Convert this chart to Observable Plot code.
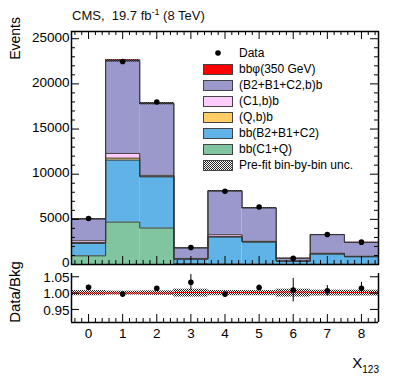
<!DOCTYPE html>
<html><head><meta charset="utf-8">
<script src="https://cdn.jsdelivr.net/npm/d3@7"></script>
<script src="https://cdn.jsdelivr.net/npm/@observablehq/plot@0.6"></script>
<style>
body{margin:0;background:#fff;}
#c{position:relative;width:399px;height:379px;font-family:"Liberation Sans",Arial,sans-serif;overflow:hidden;background:#fff}
#c > svg, #c > div {position:absolute;left:0}
.lg-box{position:absolute;width:30px;height:11px;box-sizing:border-box;border:1px solid #444}
.lg-txt{position:absolute;font-size:12px;line-height:14px;color:#000;white-space:nowrap}
</style></head><body><div id="c"></div>
<script>
// ---- data ----
const bins = [0, 1, 2, 3, 4, 5, 6, 7, 8];
const binLabels = ["0", "1", "2", "3", "4", "5", "6", "7", "8"];
const sigBbPhi   = [40, 100, 80, 20, 40, 30, 10, 20, 20];
const bgB2B1C2b  = [2400, 10250, 7930, 1150, 4830, 3680, 280, 2040, 1510];
const bgC1b      = [200, 520, 100, 60, 190, 60, 40, 70, 50];
const bgQb       = [100, 220, 80, 40, 80, 40, 20, 40, 30];
const bbB2B1C2   = [1370, 6860, 5660, 500, 2980, 2450, 340, 1130, 830];
const bbC1Q      = [960, 4700, 4040, 80, 50, 30, 10, 20, 20];
const dataEvents = [5100, 22480, 18000, 1885, 8110, 6360, 695, 3315, 2475];
const preFitUnc  = [0.008, 0.006, 0.007, 0.012, 0.008, 0.008, 0.012, 0.009, 0.009];
const ratioVal   = [1.018, 0.997, 1.015, 1.033, 0.997, 1.017, 1.009, 1.007, 1.015];
const ratioErr   = [0.006, 0.003, 0.004, 0.024, 0.005, 0.008, 0.036, 0.016, 0.018];
const sigRatio   = [1.000, 1.000, 1.000, 1.002, 1.002, 1.002, 1.003, 1.002, 1.002];
const yTicksMain = [0, 5000, 10000, 15000, 20000, 25000];
const yTicksRatio = [0.95, 1.00, 1.05];
const compNames  = ["bb(C1+Q)", "bb(B2+B1+C2)", "(Q,b)b", "(C1,b)b", "(B2+B1+C2,b)b", "bb\u03c6(350 GeV)"];
const compColors = ["#80c5a0", "#5fb3e6", "#ffcc66", "#ffccff", "#9b99cc", "#ff0000"];
const legendOrder = ["bb\u03c6(350 GeV)", "(B2+B1+C2,b)b", "(C1,b)b", "(Q,b)b", "bb(B2+B1+C2)", "bb(C1+Q)"];

// ---- build stacked table ----
const compVals = [bbC1Q, bbB2B1C2, bgQb, bgC1b, bgB2B1C2b, sigBbPhi];
const stackRows = [];
const outlineRows = [];
const bkgTotal = bins.map(() => 0);
bins.forEach((b, i) => {
  let base = 0;
  compNames.forEach((n, k) => {
    const v = compVals[k][i];
    stackRows.push({bin: b, comp: n, y1: base, y2: base + v});
    base += v;
    if (k < 5) bkgTotal[i] = base;
  });
});
compNames.forEach((n, k) => {
  let base = bins.map(() => 0);
  bins.forEach((b, i) => { for (let j = 0; j <= k; j++) base[i] += compVals[j][i]; });
  bins.forEach((b, i) => outlineRows.push({comp: n, x: b - 0.5, y: base[i]}));
  outlineRows.push({comp: n, x: bins[bins.length - 1] + 0.5, y: base[bins.length - 1]});
});
const sigRatioSteps = bins.map((b, i) => ({x: b - 0.5, y: sigRatio[i]}))
  .concat([{x: bins[bins.length - 1] + 0.5, y: sigRatio[bins.length - 1]}]);

const W = 399, ML = 71, MR = 21;
const PW = W - ML - MR;
const xDom = [-0.5, 8.5];
const xMinor = d3.range(-0.4, 8.5, 0.2).map(v => Math.round(v * 10) / 10).filter(v => Math.abs(v - Math.round(v)) > 0.01);
const yMinorMain = d3.range(0, 25801, 1000).filter(v => v % 5000 !== 0);

function ticks(ph, xMaj, xMin, yMaj, yMin, top) {
  const m = [
    Plot.tickX(xMaj, {x: d => d, insetTop: ph - 8, stroke: "black"}),
    Plot.tickX(xMin, {x: d => d, insetTop: ph - 4, stroke: "black"}),
    Plot.tickY(yMaj, {y: d => d, insetRight: PW - 8, stroke: "black"}),
    Plot.tickY(yMaj, {y: d => d, insetLeft: PW - 8, stroke: "black"}),
    Plot.tickY(yMin, {y: d => d, insetRight: PW - 4, stroke: "black"}),
    Plot.tickY(yMin, {y: d => d, insetLeft: PW - 4, stroke: "black"})
  ];
  if (top) {
    m.push(Plot.tickX(xMaj, {x: d => d, insetBottom: ph - 8, stroke: "black"}));
    m.push(Plot.tickX(xMin, {x: d => d, insetBottom: ph - 4, stroke: "black"}));
  }
  return m;
}

function addHatch(svg, id) {
  const p = d3.select(svg).insert("defs", ":first-child").append("pattern")
    .attr("id", id).attr("patternUnits", "userSpaceOnUse").attr("width", 2).attr("height", 2);
  p.append("rect").attr("x", 0).attr("y", 0).attr("width", 1).attr("height", 1).attr("fill", "#222");
  p.append("rect").attr("x", 1).attr("y", 1).attr("width", 1).attr("height", 1).attr("fill", "#222");
}

const style = {overflow: "visible", fontFamily: "Liberation Sans, Arial, sans-serif", fontSize: "13.5px", background: "transparent", color: "black"};

// ---- main panel ----
const MH = 266, MT = 31, MB = 2;
const main = Plot.plot({
  width: W, height: MH, marginTop: MT, marginBottom: MB, marginLeft: ML, marginRight: MR,
  x: {domain: xDom, axis: null, label: null},
  y: {domain: [0, 25800], label: null},
  color: {domain: compNames, range: compColors},
  style,
  marks: [
    Plot.rect(stackRows, {x1: d => d.bin - 0.5, x2: d => d.bin + 0.5, y1: "y1", y2: "y2", fill: "comp"}),
    Plot.line(outlineRows, {x: "x", y: "y", z: "comp", curve: "step-after", stroke: "#3a3a3a", strokeWidth: 1}),
    Plot.rect(bins, {x1: i => i - 0.5, x2: i => i + 0.5, y1: i => bkgTotal[i] * (1 - preFitUnc[i]), y2: i => bkgTotal[i] * (1 + preFitUnc[i]), fill: "url(#hatchMain)"}),
    Plot.dot(bins, {x: i => i, y: i => dataEvents[i], r: 2.8, fill: "black", stroke: "none"}),
    ...ticks(MH - MT - MB, bins, xMinor, yTicksMain, yMinorMain, true),
    Plot.frame({stroke: "black", strokeWidth: 1.5}),
    Plot.axisY(yTicksMain, {tickSize: 0, tickPadding: 2, dy: -1.5, tickFormat: d => String(d), label: null})
  ]
});
addHatch(main, "hatchMain");
main.style.top = "0px";

// ---- ratio panel ----
const RTop = 262, RH = 117, RT = 11, RB = 57;
const ratio = Plot.plot({
  width: W, height: RH, marginTop: RT, marginBottom: RB, marginLeft: ML, marginRight: MR,
  x: {domain: xDom, label: null},
  y: {domain: [0.91, 1.06], label: null},
  style,
  marks: [
    Plot.rect(bins, {x1: i => i - 0.5, x2: i => i + 0.5, y1: i => 1 - preFitUnc[i], y2: i => 1 + preFitUnc[i], fill: "url(#hatchRatio)"}),
    Plot.line(sigRatioSteps, {x: "x", y: "y", curve: "step-after", stroke: "#ff0000", strokeWidth: 1}),
    Plot.ruleX(bins, {x: i => i, y1: i => ratioVal[i] - ratioErr[i], y2: i => ratioVal[i] + ratioErr[i], stroke: "black", strokeWidth: 1}),
    Plot.dot(bins, {x: i => i, y: i => ratioVal[i], r: 2.8, fill: "black", stroke: "none"}),
    ...ticks(RH - RT - RB, bins, xMinor, yTicksRatio, [], false),
    Plot.ruleX(xDom, {stroke: "black", strokeWidth: 1.5}),
    Plot.ruleY([0.91], {stroke: "black", strokeWidth: 1.5}),
    Plot.axisY(yTicksRatio, {tickSize: 0, tickPadding: 2, dy: 1, tickFormat: d => d.toFixed(2), label: null}),
    Plot.axisX(bins, {tickSize: 0, tickPadding: 6, tickFormat: i => binLabels[i], label: null})
  ]
});
addHatch(ratio, "hatchRatio");
ratio.style.top = RTop + "px";

const c = document.getElementById("c");
c.appendChild(main);
c.appendChild(ratio);

// ---- texts overlay ----
const ov = d3.select(c).append("svg").attr("width", W).attr("height", 379)
  .style("top", "0px").style("font-family", "Liberation Sans, Arial, sans-serif").style("pointer-events", "none");
const t = ov.append("text").attr("x", 72).attr("y", 20).attr("font-size", 13).attr("fill", "#111");
t.append("tspan").text("CMS,\u00a0\u00a019.7 fb");
t.append("tspan").attr("font-size", 9).attr("dy", -5).text("-1");
t.append("tspan").attr("dy", 5).text(" (8 TeV)");
ov.append("text").attr("transform", "translate(20,17) rotate(-90)").attr("text-anchor", "end")
  .attr("font-size", 14).text("Events");
ov.append("text").attr("transform", "translate(20,292) rotate(-90)").attr("text-anchor", "middle")
  .attr("font-size", 15).text("Data/Bkg");
const xl = ov.append("text").attr("x", 379).attr("y", 368).attr("text-anchor", "end");
xl.append("tspan").attr("font-size", 15).text("X");
xl.append("tspan").attr("font-size", 10).attr("dy", 5).text("123");

// ---- legend ----
const lg = d3.select(c).append("div").style("top", "0px").style("width", "399px").style("height", "379px");
const rowY = [53, 69, 85, 101, 117, 133, 149, 165];
ov.append("circle").attr("cx", 218).attr("cy", rowY[0]).attr("r", 2.8).attr("fill", "black");
lg.append("div").attr("class", "lg-txt").style("left", "239px").style("top", (rowY[0] - 7) + "px").text("Data");
legendOrder.forEach((n, k) => {
  const y = rowY[k + 1];
  lg.append("div").attr("class", "lg-box").style("left", "203px").style("top", (y - 5.5) + "px")
    .style("background", compColors[compNames.indexOf(n)]);
  lg.append("div").attr("class", "lg-txt").style("left", "239px").style("top", (y - 7) + "px").text(n);
});
const yh = rowY[7];
lg.append("div").attr("class", "lg-box").style("left", "203px").style("top", (yh - 5.5) + "px")
  .style("background", "repeating-conic-gradient(#222 0 25%, #fff 0 50%) 0 0 / 2px 2px");
lg.append("div").attr("class", "lg-txt").style("left", "239px").style("top", (yh - 7) + "px").text("Pre-fit bin-by-bin unc.");
</script></body></html>
